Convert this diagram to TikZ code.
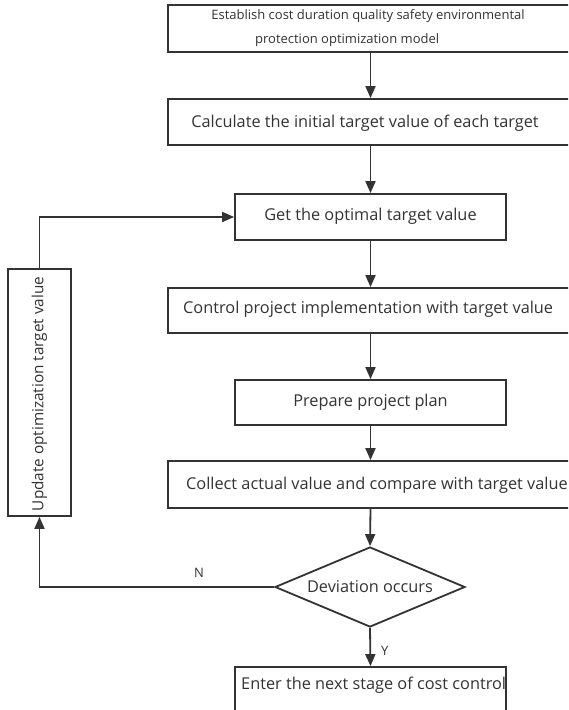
\documentclass[tikz,border=0pt]{standalone}
\usepackage{fontspec}
\setmainfont{Open Sans}
\usetikzlibrary{shapes.geometric,arrows.meta}
\definecolor{ink}{HTML}{333333}
\tikzset{
  box/.style={draw=ink, line width=1.8pt, rectangle, inner sep=0pt},
  widebox/.style={box, minimum width=440pt},
  narrowbox/.style={box, minimum width=271pt},
  lbl/.style={text=ink, font=\fontsize{16.3}{19}\selectfont, inner sep=0pt},
  small/.style={text=ink, font=\fontsize{13}{15}\selectfont, inner sep=0pt},
  arr/.style={draw=ink, line width=1.8pt, -{Triangle[length=12pt,width=10pt]}},
}
\begin{document}
\begin{tikzpicture}[x=1pt,y=-1pt]
\useasboundingbox (0,0) rectangle (568,710);
\fill[white] (0,0) rectangle (568,710);
\clip (0,0) rectangle (568,710);

% process boxes down the main column
\node[widebox, minimum height=47pt] (b1) at (388,28.5) {};
\node[small] (t1a) at (368,16) {Establish cost duration quality safety environmental};
\node[small, anchor=west] (t1b) at (255,40) {protection optimization model};

\node[widebox, minimum height=46pt] (b2) at (388,122) {};
\node[lbl] (t2) at (365,123) {Calculate the initial target value of each target};

\node[narrowbox, minimum height=46pt] (b3) at (370.5,217) {};
\node[lbl] (t3) at (370.5,216) {Get the optimal target value};

\node[widebox, minimum height=45pt] (b4) at (388,310.5) {};
\node[lbl, anchor=west] (t4) at (183,309) {Control project implementation with target value};

\node[narrowbox, minimum height=45pt] (b5) at (370.5,402.5) {};
\node[lbl] (t5) at (370.5,402) {Prepare project plan};

\node[widebox, minimum height=47pt] (b6) at (388,484.5) {};
\node[lbl, anchor=west] (t6) at (186,485) {Collect actual value and compare with target value};

\node[draw=ink, line width=1.8pt, diamond, aspect=2.36, minimum width=190pt, minimum height=80pt, inner sep=0pt] (d) at (370,587) {};
\node[lbl] (td) at (370,587) {Deviation occurs};

\node[narrowbox, minimum height=45pt] (b8) at (370.5,689.5) {};
\node[lbl, anchor=west] (t8) at (241,685) {Enter the next stage of cost control};

% feedback box on the left
\node[box, minimum width=63pt, minimum height=247pt] (u) at (39.5,392.5) {};
\node[lbl, rotate=90, font=\fontsize{15.3}{18}\selectfont] (tu) at (39.5,394) {Update optimization target value};

% main flow
\draw[arr] (b1.south -| b3.south) -- (b2.north -| b3.north);
\draw[arr] (b2.south -| b3.north) -- (b3.north);
\draw[arr] (b3.south) -- (b4.north -| b3.south);
\draw[arr] (b4.south -| b3.south) -- (b5.north);
\draw[arr] (b5.south) -- (b6.north -| b5.south);
\draw[arr] (b6.south -| b5.south) -- (d.north);
\draw[arr] (d.south) -- node[right, small, xshift=10pt, yshift=-4pt] (ly) {Y} (b8.north);

% feedback loop
\draw[arr] (d.west) -- node[above, small, pos=0.32, yshift=9pt] (ln) {N} (d.west -| u.south) -- (u.south);
\draw[arr] (u.north) -- (u.north |- b3.west) -- (b3.west);
\end{tikzpicture}
\end{document}
